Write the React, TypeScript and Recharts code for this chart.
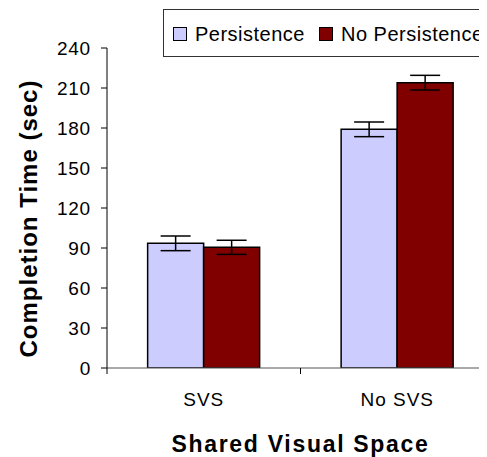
import React from 'react';
import { BarChart, Bar, XAxis, YAxis, ErrorBar, Legend } from 'recharts';

const CATEGORIES = ['SVS', 'No SVS'];
const SERIES_NAMES = ['Persistence', 'No Persistence'];
const PERSISTENCE = [93.5, 179];
const PERSISTENCE_ERR = [5.5, 5.5];
const NO_PERSISTENCE = [90.5, 214];
const NO_PERSISTENCE_ERR = [5.3, 5.5];
const Y_TICKS = [0, 30, 60, 90, 120, 150, 180, 210, 240];

const data = CATEGORIES.map((name, i) => ({
  name,
  p: PERSISTENCE[i],
  pErr: PERSISTENCE_ERR[i],
  np: NO_PERSISTENCE[i],
  npErr: NO_PERSISTENCE_ERR[i],
}));

const CHART_W = 495;
const CHART_H = 449;
const MARGIN = { top: 40, right: 9, bottom: 0, left: 0 };
const YAXIS_W = 99;
const XAXIS_H = 89;
const PLOT_W = CHART_W - MARGIN.left - MARGIN.right - YAXIS_W;
const BAND = PLOT_W / CATEGORIES.length;
const FONT = '"Liberation Sans", Arial, sans-serif';

const XTick = (props: any) => {
  const { x, y, payload, index } = props;
  const isLast = index === CATEGORIES.length - 1;
  return (
    <g>
      <line x1={x - BAND / 2} x2={x - BAND / 2} y1={y} y2={y + 6} stroke="#000" strokeWidth={1} />
      {isLast && <line x1={x + BAND / 2} x2={x + BAND / 2} y1={y} y2={y + 6} stroke="#000" strokeWidth={1} />}
      <text x={x} y={y + 38} textAnchor="middle" fontSize={19} letterSpacing={1} fill="#000">
        {payload.value}
      </text>
    </g>
  );
};

const renderYLabel = (props: any) => {
  const vb = props.viewBox || { x: 0, y: 40, width: 99, height: 320 };
  const x = vb.x + 29;
  const y = vb.y + vb.height / 2 + 10.5;
  return (
    <text
      x={x}
      y={y}
      transform={`rotate(-90, ${x}, ${y})`}
      textAnchor="middle"
      fontSize={24}
      fontWeight="bold"
      letterSpacing={1}
      fill="#000"
    >
      Completion Time (sec)
    </text>
  );
};

const renderXLabel = (props: any) => {
  const vb = props.viewBox || { x: 99, y: 360, width: 387, height: 89 };
  const x = vb.x + vb.width / 2;
  const y = vb.y + 84;
  return (
    <text x={x} y={y} textAnchor="middle" fontSize={23} fontWeight="bold" letterSpacing={1.7} fill="#000">
      Shared Visual Space
    </text>
  );
};

const renderLegend = (props: any) => {
  const payload = [...(props.payload || [])].sort(
    (a: any, b: any) => SERIES_NAMES.indexOf(a.value) - SERIES_NAMES.indexOf(b.value)
  );
  return (
    <div
      style={{
        boxSizing: 'border-box',
        width: 340,
        height: 48,
        border: '1px solid #333',
        background: '#fff',
        display: 'flex',
        alignItems: 'center',
        paddingLeft: 9,
        paddingTop: 2,
        fontFamily: FONT,
        fontSize: 20,
        letterSpacing: 0.5,
        color: '#000',
        whiteSpace: 'nowrap',
      }}
    >
      {payload.map((entry: any, i: number) => (
        <div key={i} style={{ display: 'flex', alignItems: 'center', marginRight: 14 }}>
          <span
            style={{
              display: 'inline-block',
              boxSizing: 'border-box',
              width: 14,
              height: 14,
              background: entry.color,
              border: '1.5px solid #000',
              marginRight: 8,
            }}
          />
          <span>{entry.value}</span>
        </div>
      ))}
    </div>
  );
};

export default function App() {
  return (
    <div style={{ width: 479, height: CHART_H, overflow: 'hidden', fontFamily: FONT, position: 'relative' }}>
      <BarChart
        width={CHART_W}
        height={CHART_H}
        data={data}
        margin={MARGIN}
        barCategoryGap="21%"
        barGap={0}
      >
        <XAxis
          dataKey="name"
          height={XAXIS_H}
          tickLine={false}
          tickSize={0}
          tickMargin={0}
          axisLine={{ stroke: '#555', strokeWidth: 1 }}
          tick={<XTick />}
          interval={0}
          label={renderXLabel}
        />
        <YAxis
          width={YAXIS_W}
          domain={[0, 240]}
          ticks={Y_TICKS}
          interval={0}
          allowDataOverflow
          axisLine={{ stroke: '#000', strokeWidth: 1 }}
          tickLine={{ stroke: '#000', strokeWidth: 1 }}
          tickSize={6}
          tickMargin={10}
          tick={{ fill: '#000', fontSize: 19, letterSpacing: 0.8 }}
          label={renderYLabel}
        />
        <Legend
          layout="horizontal"
          verticalAlign="middle"
          align="center"
          wrapperStyle={{ top: 1, left: 155, width: 340, height: 48 }}
          content={renderLegend}
        />
        <Bar dataKey="p" name={SERIES_NAMES[0]} fill="#CCCCFF" stroke="#000" strokeWidth={1.5} isAnimationActive={false}>
          <ErrorBar dataKey="pErr" width={15} stroke="#000" strokeWidth={1.5} />
        </Bar>
        <Bar dataKey="np" name={SERIES_NAMES[1]} fill="#800000" stroke="#000" strokeWidth={1.5} isAnimationActive={false}>
          <ErrorBar dataKey="npErr" width={15} stroke="#000" strokeWidth={1.5} />
        </Bar>
      </BarChart>
    </div>
  );
}
